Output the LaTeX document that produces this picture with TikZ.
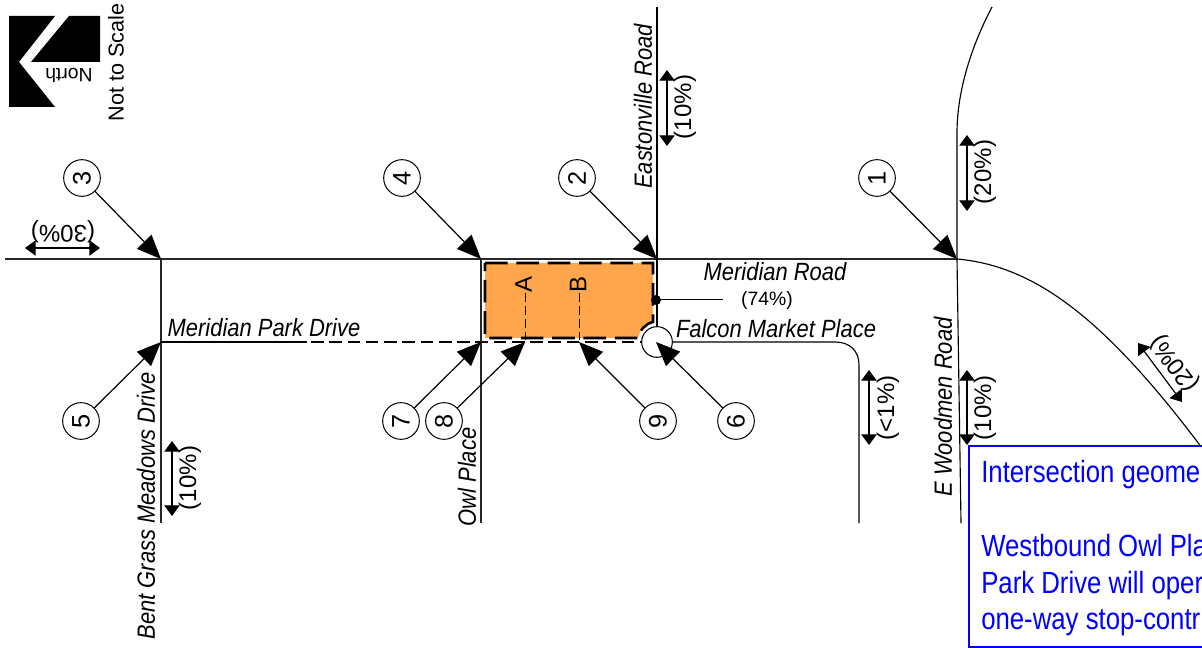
\documentclass[tikz,border=0pt]{standalone}
\usepackage{fontspec}
\setmainfont{Liberation Sans}
\newfontfamily\boxfont[FakeStretch=0.84]{Liberation Sans}
\newfontfamily\namefont[FakeStretch=0.88]{Liberation Sans}
\usetikzlibrary{arrows.meta}
\definecolor{siteorange}{HTML}{FFA64D}
\definecolor{noteblue}{HTML}{0000FF}
\newcommand{\fs}[1]{\fontsize{#1}{#1}\selectfont}
\tikzset{
  road/.style={line width=0.95pt,draw=black!85},
  roadthin/.style={line width=0.85pt,draw=black},
  dashroad/.style={line width=1pt,draw=black,dash pattern=on 9.5pt off 4.2pt},
  sitebox/.style={fill=siteorange,draw=black,line width=1.9pt,dash pattern=on 17pt off 6.5pt},
  marker/.style={circle,draw=black,line width=0.75pt,fill=white,minimum size=27.5pt,inner sep=0pt,rotate=90,font=\fs{19}},
  pointer/.style={line width=0.9pt,-{Triangle[length=18pt,width=15pt]}},
  grade/.style={line width=0.9pt,{Triangle[length=8pt,width=11.5pt]}-{Triangle[length=8pt,width=11.5pt]}},
  roadname/.style={inner sep=0pt,font=\namefont\fs{18.7}\itshape},
  vroadname/.style={roadname,rotate=90},
  gradetext/.style={inner sep=0pt,font=\fs{18}},
  notetext/.style={inner sep=0pt,anchor=base west,text=noteblue,font=\boxfont\fs{23}},
}
\begin{document}
\begin{tikzpicture}[x=0.75pt,y=-0.75pt]
\useasboundingbox (0,0) rectangle (1202,648);
\clip (0,0) rectangle (1202,648);
% north symbol
\fill[black] (9,16) -- (55,16) -- (19,62) -- (55,107) -- (9,107) -- cycle;
\fill[black] (69,16) -- (100,16) -- (100,62) -- (31,62) -- cycle;
\node[rotate=180,inner sep=0pt,font=\fs{14.5}] (north) at (69,75) {North};
\node[rotate=90,inner sep=0pt,font=\fs{16.2}] (scale) at (116,62.5) {Not to Scale};
% junctions
\coordinate (west) at (5,259);
\coordinate (j3) at (161,259);
\coordinate (j4) at (481,259);
\coordinate (j2) at (657,259);
\coordinate (j1) at (957,259);
\coordinate (j5) at (161,342);
\coordinate (j7) at (481,342);
\coordinate (j8) at (525,342);
\coordinate (j9) at (579,342);
\coordinate (j6) at (656,342);
\coordinate (dashstart) at (311,342);
\coordinate (a8) at (525,293);
\coordinate (a9) at (579,293);
% site
\path[sitebox] (485,263) -- (653,263) -- (653,322) .. controls (645,324) and (640,330) .. (638,338) -- (485,338) -- cycle;
% roads
\draw[road] (west) -- (j1);
\draw[roadthin] (j1) .. controls (1035,266) and (1105,318) .. (1205,452);
\draw[roadthin] (992,7) .. controls (972,45) and (957,90) .. (957,133) -- (j1);
\draw[roadthin] (j1) -- (961,523);
\draw[road] (j3) -- (161,523);
\draw[roadthin] (j5) -- (307,342);
\draw[dashroad] (dashstart) -- (640,342);
\draw[road] (j4) -- (481,523);
\draw[roadthin] (657,7) -- (657,328);
\draw[roadthin] (672,342) -- (835,342) .. controls (850,342) and (859,351) .. (859,365) -- (859,523);
\node[circle,draw=black,line width=0.8pt,fill=white,minimum size=23pt,inner sep=0pt] (mini) at (657,342) {};
% A and B
\node[rotate=90,inner sep=0pt,font=\fs{18}] (la) at (523.5,284) {A};
\node[rotate=90,inner sep=0pt,font=\fs{18}] (lb) at (578,284) {B};
\draw[line width=0.75pt,dash pattern=on 6.5pt off 3.2pt] (a8) -- (j8);
\draw[line width=0.75pt,dash pattern=on 6.5pt off 3.2pt] (a9) -- (j9);
% leader
\coordinate (leadend) at (723,300);
\fill[black] (656,300) circle[radius=5] coordinate (leaddot);
\draw[line width=0.75pt] (leaddot) -- (leadend);
% markers
\node[marker] (c3) at (82,178) {3};
\node[marker] (c4) at (402,178) {4};
\node[marker] (c2) at (577,178) {2};
\node[marker] (c1) at (877,178) {1};
\node[marker] (c5) at (81,421) {5};
\node[marker] (c7) at (401,421) {7};
\node[marker] (c8) at (444,421) {8};
\node[marker] (c9) at (658,421) {9};
\node[marker] (c6) at (736,421) {6};
\draw[pointer] (c3) -- (j3);
\draw[pointer] (c4) -- (j4);
\draw[pointer] (c2) -- (j2);
\draw[pointer] (c1) -- (j1);
\draw[pointer] (c5) -- (j5);
\draw[pointer] (c7) -- (j7);
\draw[pointer] (c8) -- (j8);
\draw[pointer] (c9) -- (j9);
\draw[pointer] (c6) -- (j6);
% road names
\node[roadname] (n1) at (264,328) {Meridian Park Drive};
\node[roadname] (n2) at (775,272) {Meridian Road};
\node[inner sep=0pt,font=\fs{14.5}] (n3) at (767,300) {(74\%)};
\node[roadname] (n4) at (776,329) {Falcon Market Place};
\node[vroadname] (n5) at (643,106.5) {Eastonville Road};
\node[vroadname] (n6) at (467,477) {Owl Place};
\node[vroadname] (n7) at (943,407) {E Woodmen Road};
\node[vroadname] (n8) at (146,506) {Bent Grass Meadows Drive};
% grade arrows
\coordinate (g1a) at (667,70); \coordinate (g1b) at (667,146);
\coordinate (g2a) at (967,135); \coordinate (g2b) at (967,211);
\coordinate (g3a) at (172,441); \coordinate (g3b) at (172,516);
\coordinate (g4a) at (869,370); \coordinate (g4b) at (869,445);
\coordinate (g5a) at (967,370); \coordinate (g5b) at (967,445);
\coordinate (g6a) at (25,248); \coordinate (g6b) at (100,248);
\coordinate (g7a) at (1138,343); \coordinate (g7b) at (1182,402);
\draw[grade] (g1a) -- (g1b);
\draw[grade] (g2a) -- (g2b);
\draw[grade] (g3a) -- (g3b);
\draw[grade] (g4a) -- (g4b);
\draw[grade] (g5a) -- (g5b);
\draw[grade] (g6a) -- (g6b);
\draw[grade] (g7a) -- (g7b);
\node[gradetext,rotate=90] (t1) at (685,107) {(10\%)};
\node[gradetext,rotate=90] (t2) at (985,172) {(20\%)};
\node[gradetext,rotate=90] (t3) at (190,478) {(10\%)};
\node[gradetext,rotate=90] (t4) at (888,408) {(<1\%)};
\node[gradetext,rotate=90] (t5) at (985,408) {(10\%)};
\node[gradetext,rotate=180] (t6) at (63,232) {(30\%)};
\node[gradetext,rotate=127] (t7) at (1175,363) {(20\%)};
% note
\path[fill=white,draw=noteblue,line width=1.9pt] (969,446) rectangle (1220,647.5);
\node[notetext] (b1) at (981,482) {Intersection geome};
\node[notetext] (b2) at (981,556) {Westbound Owl Pla};
\node[notetext] (b3) at (981,593) {Park Drive will oper};
\node[notetext] (b4) at (981,629) {one-way stop-contr};
\end{tikzpicture}
\end{document}
